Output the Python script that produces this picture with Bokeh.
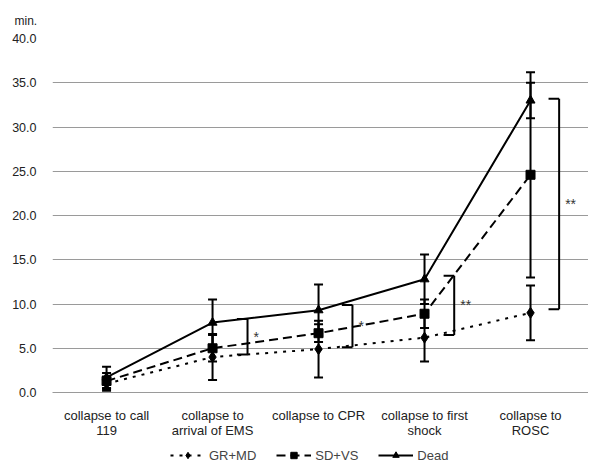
from bokeh.plotting import figure
from bokeh.layouts import column
from bokeh.models import (Range1d, FixedTicker, Whisker, TeeHead, ColumnDataSource,
                          Legend, LegendItem, NumeralTickFormatter)
from bokeh.core.properties import value
from bokeh.embed import file_html
from bokeh.resources import INLINE

categories = ["collapse to call\n119", "collapse to\narrival of EMS", "collapse to CPR",
              "collapse to first\nshock", "collapse to\nROSC"]
xpos = [1, 2, 3, 4, 5]

gr_md = [1.0, 4.0, 4.9, 6.2, 9.0]
gr_md_err = [0.8, 2.6, 3.2, 2.7, 3.1]
sd_vs = [1.3, 5.0, 6.7, 8.9, 24.6]
sd_vs_err = [0.9, 1.5, 1.0, 1.6, 11.6]
dead = [1.7, 7.9, 9.3, 12.8, 33.0]
dead_err = [1.2, 2.6, 2.9, 2.8, 2.0]

y_ticks = [0, 5, 10, 15, 20, 25, 30, 35, 40]

# significance brackets (between neighbouring categories)
bracket_x = [2.33, 3.32, 4.28, 5.27]
bracket_top = [8.3, 9.9, 13.2, 33.2]
bracket_bottom = [4.3, 5.1, 6.5, 9.4]
bracket_text = ["*", "*", "**", "**"]

FONT = "Liberation Sans"
W = 588

p = figure(width=W, height=440, output_backend="svg", toolbar_location=None,
           x_range=Range1d(0.49, 5.547), y_range=Range1d(0, 40),
           min_border_left=52, min_border_right=0, min_border_top=34, min_border_bottom=10)
p.outline_line_color = None
p.background_fill_color = "white"

p.title.text = "min."
p.title.align = "left"
p.title.offset = -38
p.title.standoff = 22
p.title.text_font = FONT
p.title.text_font_size = "12px"
p.title.text_font_style = "normal"
p.title.text_color = "#222222"

p.xgrid.visible = False
p.ygrid.grid_line_color = "#9a9a9a"
p.ygrid.grid_line_width = 1
p.ygrid.ticker = FixedTicker(ticks=y_ticks)

p.yaxis.ticker = FixedTicker(ticks=y_ticks)
p.yaxis.formatter = NumeralTickFormatter(format="0.0")
p.yaxis.axis_line_color = None
p.yaxis.major_tick_line_color = None
p.yaxis.minor_tick_line_color = None
p.yaxis.major_label_standoff = 10
p.yaxis.major_label_text_font = FONT
p.yaxis.major_label_text_font_size = "12.5px"
p.yaxis.major_label_text_color = "#222222"

p.xaxis.ticker = FixedTicker(ticks=xpos)
p.xaxis.major_label_overrides = {x: c for x, c in zip(xpos, categories)}
p.xaxis.axis_line_color = "#9a9a9a"
p.xaxis.major_tick_line_color = None
p.xaxis.minor_tick_line_color = None
p.xaxis.major_label_standoff = 9
p.xaxis.major_label_text_font = FONT
p.xaxis.major_label_text_font_size = "13px"
p.xaxis.major_label_text_line_height = 1.0
p.xaxis.major_label_text_color = "#222222"

series = [
    ("GR+MD", gr_md, gr_md_err, "3 6", "diamond", 11),
    ("SD+VS", sd_vs, sd_vs_err, "9 5", "square", 9),
    ("Dead", dead, dead_err, "solid", "triangle", 9),
]

# legend-only strip below the chart
lg = figure(width=W, height=24, output_backend="svg", toolbar_location=None,
            x_range=Range1d(0, 1), y_range=Range1d(0, 1),
            x_axis_location=None, y_axis_location=None,
            min_border_left=0, min_border_right=0, min_border_top=0, min_border_bottom=0)
lg.outline_line_color = None
lg.xgrid.visible = False
lg.ygrid.visible = False

items = []
for name, vals, errs, dash, marker, size in series:
    src = ColumnDataSource(dict(x=xpos, y=vals,
                                upper=[v + e for v, e in zip(vals, errs)],
                                lower=[v - e for v, e in zip(vals, errs)]))
    w = Whisker(source=src, base="x", upper="upper", lower="lower",
                line_color="black", line_width=2,
                upper_head=TeeHead(size=9, line_color="black", line_width=2),
                lower_head=TeeHead(size=9, line_color="black", line_width=2))
    p.add_layout(w)
    p.line("x", "y", source=src, line_color="black", line_width=2, line_dash=dash)
    p.scatter("x", "y", source=src, marker=marker, size=size,
              fill_color="black", line_color="black")
    # off-range proxies so the legend strip can draw the samples
    proxy = ColumnDataSource(dict(x=[-10, -9], y=[-10, -10]))
    ln = lg.line("x", "y", source=proxy, line_color="black", line_width=2, line_dash=dash)
    sc = lg.scatter("x", "y", source=proxy, marker=marker, size=size - 1,
                    fill_color="black", line_color="black")
    items.append(LegendItem(label=name, renderers=[ln, sc]))

# brackets
tick_len = 0.1
p.segment(x0=bracket_x, y0=bracket_bottom, x1=bracket_x, y1=bracket_top,
          line_color="black", line_width=2)
p.segment(x0=[b - tick_len for b in bracket_x], y0=bracket_top, x1=bracket_x, y1=bracket_top,
          line_color="black", line_width=2)
p.segment(x0=[b - tick_len for b in bracket_x], y0=bracket_bottom, x1=bracket_x, y1=bracket_bottom,
          line_color="black", line_width=2)
p.text(x=bracket_x, y=[(t + b) / 2 for t, b in zip(bracket_top, bracket_bottom)],
       text=bracket_text, x_offset=6, text_font=value(FONT), text_font_size="14px",
       text_color="#333333", text_baseline="middle", text_align="left")

legend = Legend(items=items, orientation="horizontal", location=(118, 1),
                border_line_color=None, background_fill_alpha=0,
                label_text_font=FONT, label_text_font_size="13px",
                label_height=16, glyph_height=16, label_standoff=4,
                glyph_width=35, spacing=20, padding=0, margin=0)
lg.add_layout(legend)

open("out.html", "w").write(file_html(column(p, lg, spacing=0), INLINE))
